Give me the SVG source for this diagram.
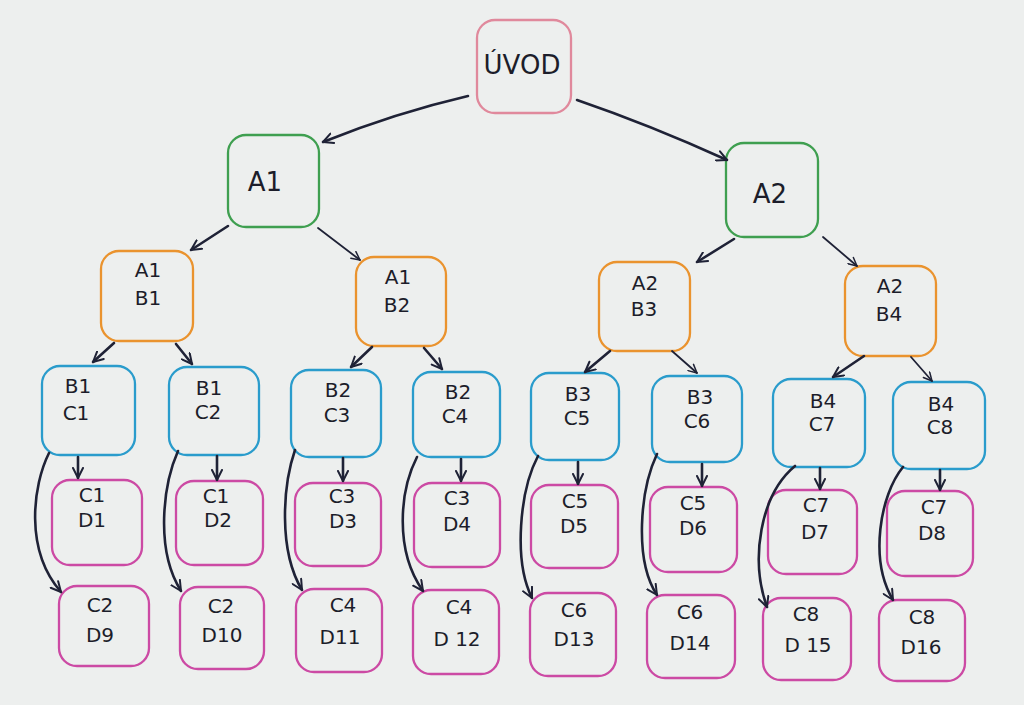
<svg xmlns="http://www.w3.org/2000/svg" width="1024" height="705" viewBox="0 0 1024 705">
<defs>
<marker id="ah" viewBox="0 0 12 12" refX="11" refY="6" markerWidth="12" markerHeight="12" markerUnits="userSpaceOnUse" orient="auto">
<path d="M1,1 L11,6 L1,11" fill="none" stroke="#1f2236" stroke-width="2" stroke-linecap="round" stroke-linejoin="round"/>
</marker>
<marker id="ahs" viewBox="0 0 12 12" refX="11" refY="6" markerWidth="10" markerHeight="10" markerUnits="userSpaceOnUse" orient="auto">
<path d="M1,1 L11,6 L1,11" fill="none" stroke="#1f2236" stroke-width="1.8" stroke-linecap="round" stroke-linejoin="round"/>
</marker>
</defs>
<style>
.box{fill:none;stroke-width:2.3}
.pk{stroke:#e0899c}
.gr{stroke:#3f9f50}
.or{stroke:#ea932e}
.bl{stroke:#2a9ccc}
.mg{stroke:#cc4aa4}
text{font-family:"DejaVu Sans","Liberation Sans",sans-serif;font-size:20px;fill:#1c1d2a;text-anchor:middle;dominant-baseline:central}
.big{font-size:26px}
.con path{fill:none;stroke:#1f2236;stroke-width:2.6;stroke-linecap:round}
.con .thin{stroke-width:1.8}
</style>
<rect width="1024" height="705" fill="#edefee"/>

<g id="uvod"><rect class="box pk" x="477" y="20" width="94" height="93" rx="18"/><text class="big" x="522" y="65">ÚVOD</text></g>

<g id="a1"><rect class="box gr" x="228" y="135" width="91" height="92" rx="18"/><text class="big" x="265" y="182">A1</text></g>
<g id="a2"><rect class="box gr" x="726" y="143" width="92" height="94" rx="18"/><text class="big" x="770" y="194">A2</text></g>

<g id="a1b1"><rect class="box or" x="101" y="251" width="92" height="90" rx="18"/><text x="148" y="270">A1</text><text x="148" y="298">B1</text></g>
<g id="a1b2"><rect class="box or" x="356" y="257" width="90" height="89" rx="18"/><text x="398" y="277">A1</text><text x="397" y="305">B2</text></g>
<g id="a2b3"><rect class="box or" x="599" y="262" width="91" height="89" rx="18"/><text x="645" y="283">A2</text><text x="644" y="309">B3</text></g>
<g id="a2b4"><rect class="box or" x="845" y="266" width="91" height="90" rx="18"/><text x="890" y="286">A2</text><text x="889" y="314">B4</text></g>

<g id="b1c1"><rect class="box bl" x="42" y="366" width="93" height="89" rx="18"/><text x="78" y="386">B1</text><text x="76" y="413">C1</text></g>
<g id="b1c2"><rect class="box bl" x="169" y="367" width="90" height="88" rx="18"/><text x="209" y="388">B1</text><text x="208" y="412">C2</text></g>
<g id="b2c3"><rect class="box bl" x="291" y="370" width="90" height="87" rx="18"/><text x="338" y="390">B2</text><text x="337" y="415">C3</text></g>
<g id="b2c4"><rect class="box bl" x="413" y="372" width="87" height="85" rx="18"/><text x="458" y="392">B2</text><text x="455" y="416">C4</text></g>
<g id="b3c5"><rect class="box bl" x="531" y="373" width="88" height="87" rx="18"/><text x="578" y="394">B3</text><text x="577" y="418">C5</text></g>
<g id="b3c6"><rect class="box bl" x="652" y="376" width="90" height="86" rx="18"/><text x="700" y="397">B3</text><text x="697" y="421">C6</text></g>
<g id="b4c7"><rect class="box bl" x="773" y="379" width="92" height="88" rx="18"/><text x="823" y="401">B4</text><text x="822" y="424">C7</text></g>
<g id="b4c8"><rect class="box bl" x="893" y="382" width="92" height="87" rx="18"/><text x="941" y="404">B4</text><text x="940" y="427">C8</text></g>

<g id="c1d1"><rect class="box mg" x="52" y="480" width="90" height="85" rx="18"/><text x="92" y="495">C1</text><text x="92" y="520">D1</text></g>
<g id="c1d2"><rect class="box mg" x="176" y="481" width="87" height="84" rx="18"/><text x="216" y="496">C1</text><text x="218" y="520">D2</text></g>
<g id="c3d3"><rect class="box mg" x="295" y="483" width="86" height="83" rx="18"/><text x="342" y="496">C3</text><text x="343" y="521">D3</text></g>
<g id="c3d4"><rect class="box mg" x="414" y="483" width="86" height="84" rx="18"/><text x="457" y="498">C3</text><text x="457" y="524">D4</text></g>
<g id="c5d5"><rect class="box mg" x="531" y="485" width="87" height="83" rx="18"/><text x="575" y="501">C5</text><text x="574" y="526">D5</text></g>
<g id="c5d6"><rect class="box mg" x="650" y="487" width="87" height="85" rx="18"/><text x="693" y="503">C5</text><text x="693" y="528">D6</text></g>
<g id="c7d7"><rect class="box mg" x="768" y="490" width="89" height="84" rx="18"/><text x="816" y="505">C7</text><text x="815" y="532">D7</text></g>
<g id="c7d8"><rect class="box mg" x="887" y="491" width="86" height="85" rx="18"/><text x="934" y="507">C7</text><text x="932" y="533">D8</text></g>

<g id="c2d9"><rect class="box mg" x="59" y="586" width="90" height="80" rx="18"/><text x="100" y="605">C2</text><text x="100" y="635">D9</text></g>
<g id="c2d10"><rect class="box mg" x="180" y="587" width="84" height="82" rx="18"/><text x="221" y="606">C2</text><text x="222" y="635">D10</text></g>
<g id="c4d11"><rect class="box mg" x="296" y="589" width="86" height="83" rx="18"/><text x="343" y="605">C4</text><text x="340" y="637">D11</text></g>
<g id="c4d12"><rect class="box mg" x="413" y="590" width="86" height="84" rx="18"/><text x="459" y="607">C4</text><text x="457" y="639">D 12</text></g>
<g id="c6d13"><rect class="box mg" x="530" y="593" width="86" height="83" rx="18"/><text x="574" y="610">C6</text><text x="574" y="639">D13</text></g>
<g id="c6d14"><rect class="box mg" x="647" y="595" width="88" height="83" rx="18"/><text x="690" y="612">C6</text><text x="690" y="643">D14</text></g>
<g id="c8d15"><rect class="box mg" x="763" y="598" width="88" height="82" rx="18"/><text x="806" y="614">C8</text><text x="808" y="645">D 15</text></g>
<g id="c8d16"><rect class="box mg" x="879" y="600" width="86" height="81" rx="18"/><text x="922" y="617">C8</text><text x="921" y="647">D16</text></g>

<g id="connectors" class="con">
<path d="M468,96 Q395,113 323,142" marker-end="url(#ah)"/>
<path d="M577,100 Q650,125 727,160" marker-end="url(#ah)"/>
<path d="M228,226 L191,250" marker-end="url(#ah)"/>
<path class="thin" d="M318,228 L360,260" marker-end="url(#ahs)"/>
<path d="M734,239 L697,262" marker-end="url(#ah)"/>
<path class="thin" d="M823,237 L857,266" marker-end="url(#ahs)"/>
<path d="M114,343 L93,362" marker-end="url(#ah)"/>
<path d="M176,344 L192,364" marker-end="url(#ah)"/>
<path d="M372,347 L351,367" marker-end="url(#ah)"/>
<path d="M424,348 L442,369" marker-end="url(#ah)"/>
<path d="M610,351 L585,372" marker-end="url(#ah)"/>
<path class="thin" d="M672,351 L697,373" marker-end="url(#ahs)"/>
<path d="M864,356 L833,377" marker-end="url(#ah)"/>
<path class="thin" d="M911,357 L932,381" marker-end="url(#ahs)"/>
<path d="M78,457 L78,478" marker-end="url(#ah)"/>
<path d="M217,456 L217,480" marker-end="url(#ah)"/>
<path d="M343,458 L343,481" marker-end="url(#ah)"/>
<path d="M461,459 L461,481" marker-end="url(#ah)"/>
<path d="M578,462 L578,484" marker-end="url(#ah)"/>
<path d="M702,464 L702,486" marker-end="url(#ah)"/>
<path d="M820,468 L820,489" marker-end="url(#ah)"/>
<path d="M940,470 L940,490" marker-end="url(#ah)"/>
<path d="M49,453 C33,485 24,550 61,592" marker-end="url(#ah)"/>
<path d="M178,451 C163,485 155,550 181,591" marker-end="url(#ah)"/>
<path d="M295,450 C283,485 278,550 302,590" marker-end="url(#ah)"/>
<path d="M417,457 C400,490 394,550 423,591" marker-end="url(#ah)"/>
<path d="M538,456 C520,490 513,560 532,598" marker-end="url(#ah)"/>
<path d="M657,454 C640,490 634,560 657,595" marker-end="url(#ah)"/>
<path d="M795,466 C760,495 750,560 767,607" marker-end="url(#ah)"/>
<path d="M903,467 C880,495 869,560 893,600" marker-end="url(#ah)"/>
</g>
</svg>
